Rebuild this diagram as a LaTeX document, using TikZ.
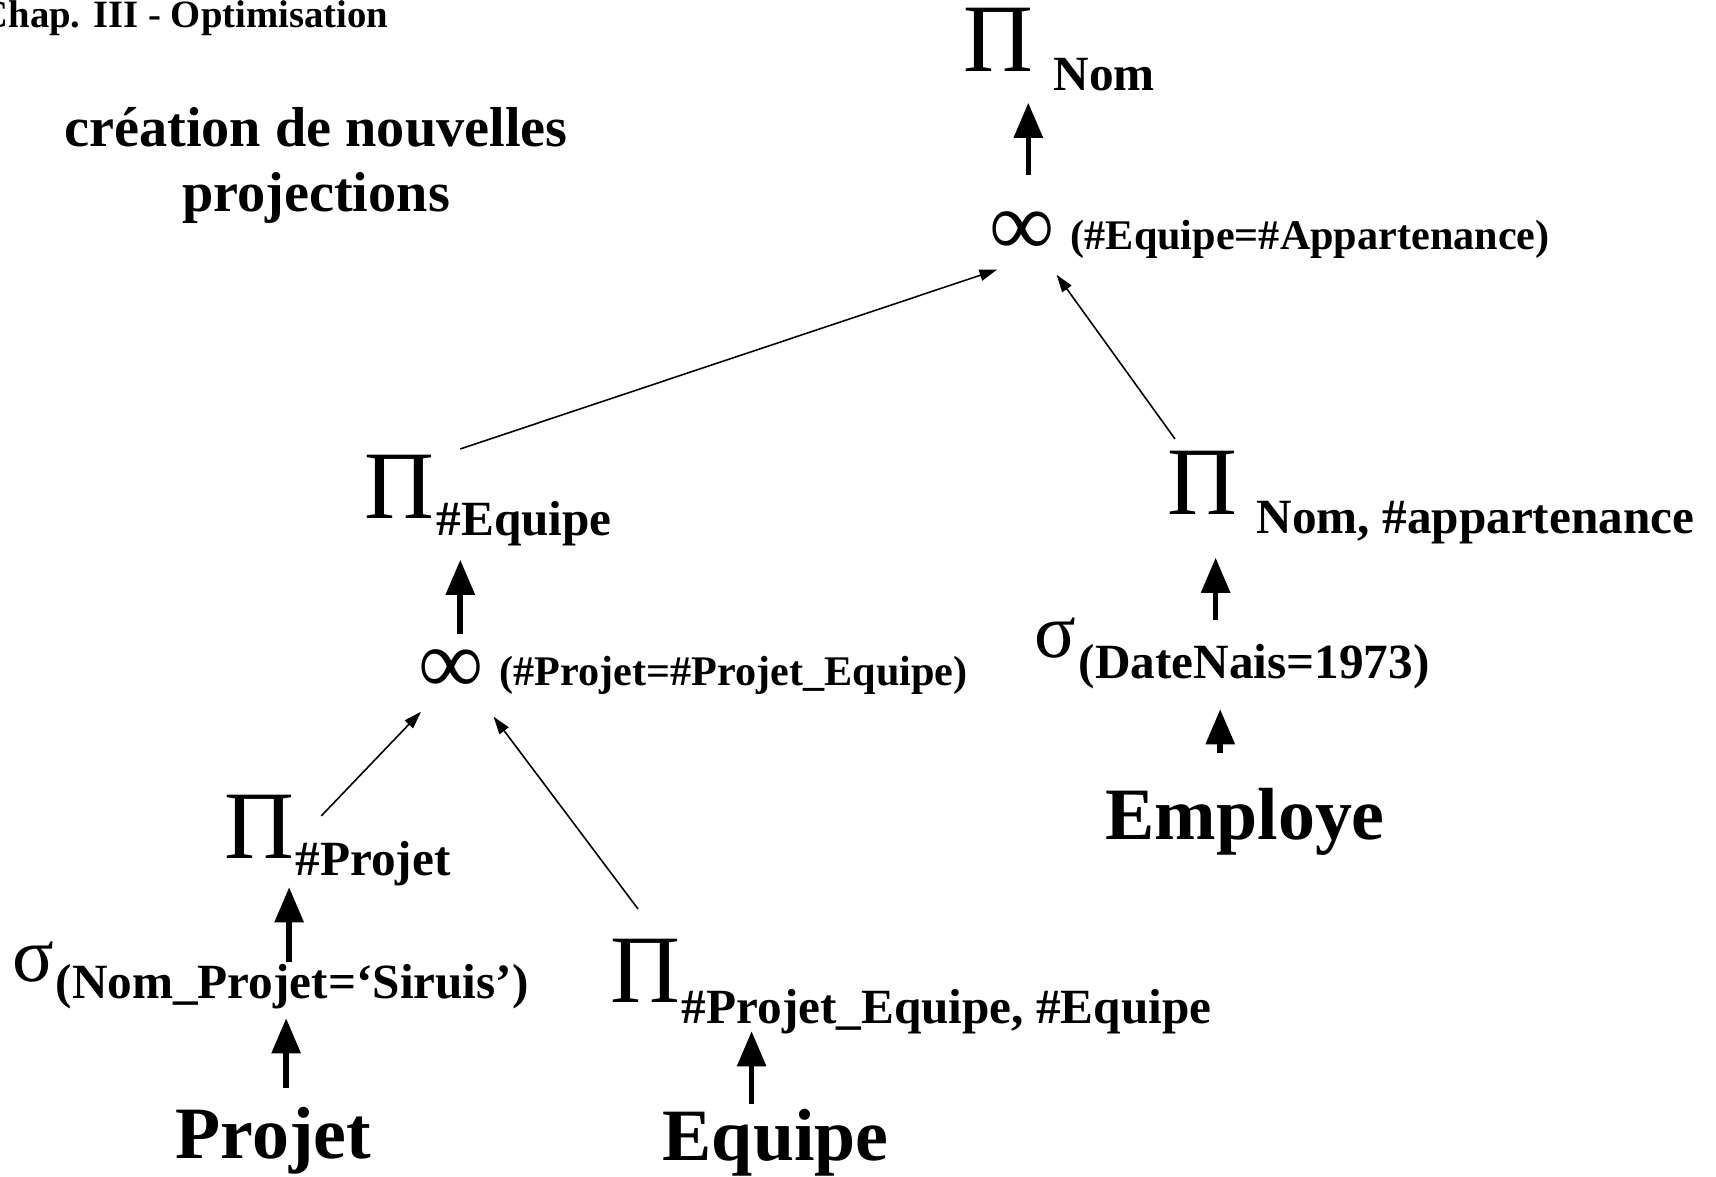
\documentclass[tikz,border=0pt]{standalone}
\usepackage{fontspec}
\setmainfont{Liberation Serif}
\usetikzlibrary{arrows.meta,calc}

\begin{document}
\begin{tikzpicture}[x=0.01cm,y=-0.01cm,
  every node/.style={inner sep=0pt,anchor=base west},
  proj/.style={font=\fontsize{27.5}{27.5}\selectfont},
  sel/.style={font=\fontsize{22}{22}\selectfont},
  natjoin/.style={font=\fontsize{26}{26}\selectfont},
  attr/.style={font=\fontsize{14}{14}\selectfont\bfseries},
  cond/.style={font=\fontsize{12}{12}\selectfont\bfseries},
  rel/.style={font=\fontsize{21}{21}\selectfont\bfseries},
  flow/.style={line width=1.6pt,-{Triangle[length=10pt,width=8pt]}},
  link/.style={line width=0.45pt,-{Triangle[length=5pt,width=3.2pt]}}]
  \useasboundingbox (0,0) rectangle (1716,1177);
  % titles
  \node[font=\fontsize{11}{11}\selectfont\bfseries] (chap) at (-20,28) {Chap. III - Optimisation};
  \node[font=\fontsize{16}{18.5}\selectfont\bfseries,align=center,anchor=north] (titre) at (316,107)
    {création de nouvelles\\projections};
  % top of the tree
  \node[proj] (piNom) at (963,72) {Π};
  \node[attr] (piNomSub) at (1053,91) {Nom};
  \node[natjoin] (joinTop) at (989,256) {∞};
  \node[cond] (joinTopSub) at (1070,250) {(\#Equipe=\#Appartenance)};
  % left branch
  \node[proj] (piEq) at (364,519) {Π};
  \node[attr] (piEqSub) at (436,536) {\#Equipe};
  \node[natjoin] (joinMid) at (418,694) {∞};
  \node[cond] (joinMidSub) at (499,686) {(\#Projet=\#Projet\_Equipe)};
  \node[proj] (piP) at (224,858) {Π};
  \node[attr] (piPSub) at (295,876) {\#Projet};
  \node[sel] (selP) at (12,981) {σ};
  \node[attr] (selPSub) at (55,998) {(Nom\_Projet=‘Siruis’)};
  \node[rel] (projet) at (175,1158) {Projet};
  \node[proj] (piPE) at (610,1002) {Π};
  \node[attr] (piPESub) at (681,1023) {\#Projet\_Equipe, \#Equipe};
  \node[rel] (equipe) at (662,1160) {Equipe};
  % right branch
  \node[proj] (piEmp) at (1167,515) {Π};
  \node[attr] (piEmpSub) at (1256,534) {Nom, \#appartenance};
  \node[sel] (selEmp) at (1034,658) {σ};
  \node[attr] (selEmpSub) at (1078,679) {(DateNais=1973)};
  \node[rel] (employe) at (1105,840) {Employe};
  % thick arrows
  \draw[flow] ($(joinTop.north)+(6,-36)$) -- ($(joinTop.north |- piNom.south)+(6,30)$);
  \draw[flow] ($(joinMid.north)+(9,-15)$) -- ($(joinMid.north |- piEq.south)+(9,40)$);
  \draw[flow] ($(selPSub.north)+(-3,-1)$) -- ($(selPSub.north |- piPSub.south)+(-3,0)$);
  \draw[flow] ($(projet.north -| selPSub.south)+(-6,-18)$) -- ($(selPSub.south)+(-6,9)$);
  \draw[flow] ($(equipe.north)+(-24,-4)$) -- ($(equipe.north |- piPESub.south)+(-24,-3)$);
  \draw[flow] ($(piEmp.south |- selEmp.north)+(13,2)$) -- ($(piEmp.south)+(13,42)$);
  \draw[flow] ($(employe.north)+(-25,-35)$) -- ($(employe.north |- selEmpSub.south)+(-25,19)$);
  % thin arrows
  \draw[link] ($(piEq.north east)+(25,-6)$) -- ($(joinTop.south west)+(8,13)$);
  \draw[link] ($(piEmp.north west)+(8,-12)$) -- ($(joinTop.south east)+(1,18)$);
  \draw[link] ($(piP.north east)+(26,22)$) -- ($(joinMid.south west)+(3,17)$);
  \draw[link] ($(piPE.north west)+(28,-29)$) -- ($(joinMid.south east)+(9,22)$);
\end{tikzpicture}
\end{document}
